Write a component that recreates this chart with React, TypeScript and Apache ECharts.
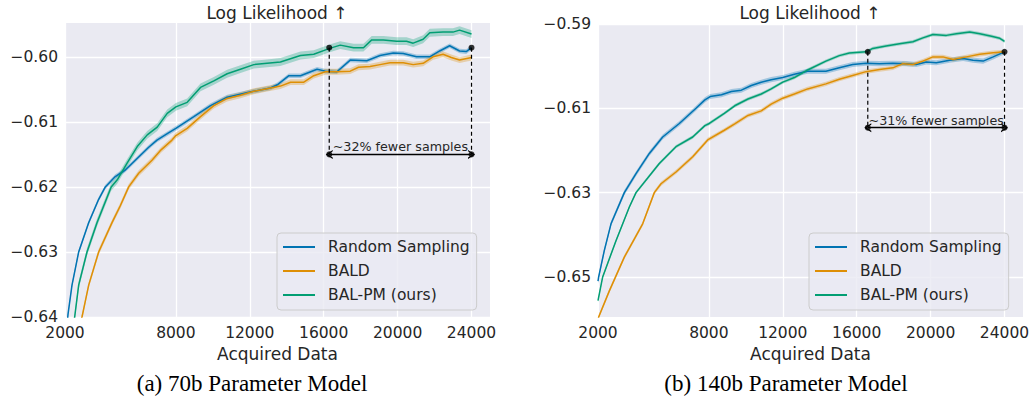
import React, { useEffect, useRef } from 'react';
import * as echarts from 'echarts';

const SERIES_NAMES = ['Random Sampling', 'BALD', 'BAL-PM (ours)'];
const COLORS = ['#0173b2', '#de8f05', '#029e73'];
const BAND_COLORS = ['rgba(1,115,178,0.3)', 'rgba(222,143,5,0.3)', 'rgba(2,158,115,0.3)'];

const X_TICKS = [2000, 8000, 12000, 16000, 20000, 24000];
const LEFT_Y_TICKS = [-0.64, -0.63, -0.62, -0.61, -0.6];
const RIGHT_Y_TICKS = [-0.65, -0.63, -0.61, -0.59];

// ---- (a) 70b ----
const L_RS_X = [2000, 2162, 2379, 2740, 3280, 3822, 4183, 4722, 5264, 5805, 6529, 6979, 7600, 8000, 8973, 9874, 10775, 12000, 13117, 13489, 14117, 14744, 15641, 16090, 16717, 17435, 18332, 19049, 19767, 20305, 21022, 21740, 22278, 22816, 23354, 23713, 24000];
const L_RS_Y = [-0.6452, -0.6396, -0.6351, -0.63, -0.6255, -0.6219, -0.62, -0.6184, -0.6174, -0.6159, -0.6139, -0.6128, -0.6117, -0.611, -0.6092, -0.6075, -0.6062, -0.6054, -0.6048, -0.6043, -0.6029, -0.6029, -0.6019, -0.6022, -0.6023, -0.6005, -0.6006, -0.5998, -0.5994, -0.5995, -0.6, -0.6, -0.5991, -0.5983, -0.5991, -0.5992, -0.5986];

const L_BALD_X = [2000, 2920, 3282, 3822, 4544, 4993, 5447, 5988, 6708, 7200, 7791, 8000, 8613, 9333, 10054, 10775, 11495, 12216, 12937, 13658, 14206, 14924, 15462, 16090, 16717, 17435, 17883, 18511, 19049, 19587, 20305, 20843, 21381, 21919, 22457, 22906, 23354, 24000];
const L_BALD_Y = [-0.6475, -0.64, -0.6351, -0.63, -0.6255, -0.6229, -0.62, -0.6179, -0.6159, -0.6143, -0.6128, -0.6121, -0.611, -0.6092, -0.6075, -0.6064, -0.6059, -0.6053, -0.6049, -0.6045, -0.6039, -0.6039, -0.6029, -0.6023, -0.6023, -0.6022, -0.6016, -0.6015, -0.6012, -0.6009, -0.6009, -0.6012, -0.601, -0.6, -0.5996, -0.6001, -0.6005, -0.6001];

const L_PM_X = [2000, 2524, 2740, 3191, 3732, 4500, 4829, 5369, 5910, 6450, 6991, 7532, 8000, 8613, 9333, 10054, 10775, 11495, 12216, 12937, 13658, 14744, 15462, 16323, 16897, 17614, 18152, 18600, 19228, 19946, 20484, 20843, 21381, 21740, 22457, 22995, 23354, 24000];
const L_PM_Y = [-0.648, -0.64, -0.6351, -0.63, -0.6255, -0.62, -0.6189, -0.6163, -0.6138, -0.612, -0.6108, -0.6087, -0.6077, -0.607, -0.6047, -0.6037, -0.6026, -0.6019, -0.6012, -0.601, -0.6008, -0.5998, -0.5996, -0.5987, -0.5982, -0.5986, -0.5986, -0.5974, -0.5974, -0.5976, -0.5976, -0.5979, -0.5973, -0.5963, -0.5962, -0.5962, -0.5959, -0.5965];

const L_BAND = [0.00035, 0.00045, 0.0006];

// ---- (b) 140b ----
const R_RS_X = [2000, 2036, 2343, 2704, 3425, 4057, 4778, 5501, 6401, 7304, 7785, 8072, 8682, 9220, 9758, 10296, 10834, 11372, 12000, 12628, 13345, 14335, 15059, 15783, 16507, 17231, 17955, 18679, 19222, 19765, 20308, 21032, 21756, 22299, 22842, 23385, 24000];
const R_RS_Y = [-0.651, -0.65, -0.6437, -0.6374, -0.63, -0.6255, -0.6207, -0.6168, -0.6136, -0.61, -0.608, -0.6072, -0.6068, -0.606, -0.6057, -0.6046, -0.6038, -0.6032, -0.6027, -0.6019, -0.6012, -0.6012, -0.6004, -0.5996, -0.5993, -0.5994, -0.5993, -0.5994, -0.5996, -0.599, -0.5992, -0.5986, -0.5982, -0.5986, -0.5988, -0.5978, -0.5966];

const R_BALD_X = [2000, 2036, 2614, 3425, 4418, 5047, 5410, 6221, 7125, 7937, 8836, 9399, 10117, 10834, 11372, 12000, 12628, 13345, 14335, 15059, 15783, 16507, 17231, 17955, 18498, 19041, 19584, 20127, 20670, 21213, 21937, 22661, 23385, 24000];
const R_BALD_Y = [-0.661, -0.6595, -0.6533, -0.6453, -0.6374, -0.63, -0.6279, -0.6251, -0.6215, -0.6175, -0.6152, -0.6137, -0.6117, -0.6106, -0.609, -0.6076, -0.6066, -0.6054, -0.6042, -0.6031, -0.6022, -0.6013, -0.6008, -0.6004, -0.5994, -0.5996, -0.5988, -0.5978, -0.5978, -0.5984, -0.5978, -0.5972, -0.5968, -0.5966];

const R_PM_X = [2000, 2253, 2974, 3696, 4057, 5318, 6221, 7125, 7785, 8024, 8836, 9399, 10117, 10834, 11372, 12000, 12628, 13345, 14335, 15059, 15602, 16507, 16869, 17593, 18317, 19041, 19584, 20127, 20851, 21394, 22118, 22661, 23294, 23746, 24000];
const R_PM_Y = [-0.6556, -0.65, -0.6414, -0.6334, -0.63, -0.6231, -0.6191, -0.6168, -0.6141, -0.6136, -0.6112, -0.6094, -0.6078, -0.6066, -0.6054, -0.6038, -0.6027, -0.6009, -0.5988, -0.5975, -0.5969, -0.5966, -0.5958, -0.5952, -0.5947, -0.5942, -0.5933, -0.5925, -0.5927, -0.5923, -0.5919, -0.5923, -0.5929, -0.5934, -0.5941];

const R_BAND = [0.0006, 0.0005, 0.0004];

// annotations: [x start, x end, y of dots, y of arrow]
const L_ANN = [16300, 24000, -0.5986, -0.615];
const R_ANN = [16600, 24000, -0.5966, -0.6146];
const L_ANN_TEXT = '~32% fewer samples';
const R_ANN_TEXT = '~31% fewer samples';

const TITLE_TEXT = 'Log Likelihood \u2191';
const X_NAME = 'Acquired Data';
const CAPTIONS = ['(a) 70b Parameter Model', '(b) 140b Parameter Model'];

const TEXT = '#262626';
const FONT = 'DejaVu Sans';

const zip = (xs: number[], ys: number[]) => xs.map((x, i) => [x, ys[i]]);

const fmtY = (v: number) => (v < 0 ? '\u2212' : '') + Math.abs(v).toFixed(2);

const CHEVRON = 'path://M5,0 L10,10 L8.4,10 L5,3.2 L1.6,10 L0,10 Z';

function panelSeries(idx: number, xsList: number[][], ysList: number[][], band: number[], ann: number[], annText: string) {
  const out: any[] = [];
  for (let k = 0; k < 3; k++) {
    const xs = xsList[k];
    const ys = ysList[k];
    const bandData = xs.map((x, i) => [x, ys[i] - band[k], ys[i] + band[k]]);
    out.push({
      type: 'custom', name: `${SERIES_NAMES[k]} band ${idx}`, xAxisIndex: idx, yAxisIndex: idx,
      data: bandData, encode: { x: 0, y: [1, 2] }, clip: true, silent: true, z: 1,
      renderItem: (params: any, api: any) => {
        if (params.dataIndex !== 0) return null;
        const upper = bandData.map((d) => api.coord([d[0], d[2]]));
        const lower = bandData.map((d) => api.coord([d[0], d[1]])).reverse();
        return {
          type: 'polygon',
          shape: { points: upper.concat(lower) },
          style: { fill: BAND_COLORS[k], stroke: 'none' },
        };
      },
    });
  }
  for (let k = 0; k < 3; k++) {
    out.push({
      type: 'line', name: SERIES_NAMES[k], xAxisIndex: idx, yAxisIndex: idx,
      data: zip(xsList[k], ysList[k]), symbol: 'none', showSymbol: false,
      lineStyle: { color: COLORS[k], width: 1.5 }, itemStyle: { color: COLORS[k] }, z: 2,
    });
  }
  const [x0, x1, yTop, yArr] = ann;
  [x0, x1].forEach((x, j) => {
    out.push({
      type: 'line', name: `vline ${idx} ${j}`, xAxisIndex: idx, yAxisIndex: idx,
      data: [[x, yTop], [x, yArr]], symbol: 'none', silent: true,
      lineStyle: { color: '#000', width: 1.2, type: [4, 3] }, z: 3,
    });
  });
  out.push({
    type: 'line', name: `arrow ${idx}`, xAxisIndex: idx, yAxisIndex: idx,
    data: [], symbol: 'none', silent: true,
    markLine: {
      silent: true, animation: false,
      symbol: [CHEVRON, CHEVRON], symbolSize: [9, 7],
      lineStyle: { color: '#000', width: 1.3, type: 'solid' },
      label: { show: true, position: 'insideMiddleTop', formatter: annText, fontSize: 12.7, color: TEXT, fontFamily: FONT, distance: 1 },
      data: [[{ coord: [x0, yArr] }, { coord: [x1, yArr] }]],
    },
    z: 3,
  });
  out.push({
    type: 'scatter', name: `dots ${idx}`, xAxisIndex: idx, yAxisIndex: idx,
    data: [[x0, yTop], [x1, yTop], [x0, yArr], [x1, yArr]],
    symbolSize: 6, itemStyle: { color: '#000' }, silent: true, z: 4,
  });
  return out;
}

function xAxis(gridIndex: number) {
  return {
    type: 'value', gridIndex, min: 2000, max: 25000,
    name: X_NAME, nameLocation: 'middle', nameGap: 27,
    nameTextStyle: { fontSize: 17, color: TEXT, fontFamily: FONT },
    axisLine: { show: false },
    axisTick: { show: false, customValues: X_TICKS },
    axisLabel: { customValues: X_TICKS, fontSize: 15.5, color: TEXT, fontFamily: FONT, margin: 8, formatter: (v: number) => String(v) },
    splitLine: { show: true, lineStyle: { color: '#ffffff', width: 1.3 } },
  };
}

function yAxis(gridIndex: number, min: number, max: number, ticks: number[]) {
  return {
    type: 'value', gridIndex, min, max,
    axisLine: { show: false },
    axisTick: { show: false, customValues: ticks },
    axisLabel: { customValues: ticks, fontSize: 15.5, color: TEXT, fontFamily: FONT, margin: 7, formatter: fmtY },
    splitLine: { show: true, lineStyle: { color: '#ffffff', width: 1.3 } },
  };
}

function legend(left: number) {
  return {
    data: SERIES_NAMES, orient: 'vertical', left, top: 233,
    icon: 'rect', itemWidth: 32, itemHeight: 2, itemGap: 8,
    padding: [6, 7, 7, 6],
    backgroundColor: 'rgba(234,234,242,0.8)', borderColor: '#cccccc', borderWidth: 1, borderRadius: 4,
    textStyle: { fontSize: 15.5, color: TEXT, fontFamily: FONT, lineHeight: 16, padding: [0, 0, 0, 8] },
    selectedMode: false,
  };
}

export default function App() {
  const ref = useRef<HTMLDivElement>(null);
  useEffect(() => {
    if (!ref.current) return;
    const chart = echarts.init(ref.current, undefined, { renderer: 'svg' });
    const option: any = {
      animation: false,
      backgroundColor: '#ffffff',
      textStyle: { fontFamily: FONT },
      title: [
        { text: TITLE_TEXT, left: 277, top: 4, textAlign: 'center', padding: 0, textStyle: { fontSize: 17, fontWeight: 'normal', color: TEXT, fontFamily: FONT } },
        { text: TITLE_TEXT, left: 810, top: 4, textAlign: 'center', padding: 0, textStyle: { fontSize: 17, fontWeight: 'normal', color: TEXT, fontFamily: FONT } },
        { text: CAPTIONS[0], left: 252, top: 372, textAlign: 'center', padding: 0, textStyle: { fontSize: 23, fontWeight: 'normal', color: '#000', fontFamily: 'Liberation Serif' } },
        { text: CAPTIONS[1], left: 786, top: 372, textAlign: 'center', padding: 0, textStyle: { fontSize: 23, fontWeight: 'normal', color: '#000', fontFamily: 'Liberation Serif' } },
      ],
      legend: [legend(277), legend(809)],
      grid: [
        { left: 65, top: 23, width: 425, height: 294, show: true, backgroundColor: '#eaeaf2', borderWidth: 0, containLabel: false },
        { left: 598, top: 24, width: 425, height: 293, show: true, backgroundColor: '#eaeaf2', borderWidth: 0, containLabel: false },
      ],
      xAxis: [xAxis(0), xAxis(1)],
      yAxis: [yAxis(0, -0.64, -0.5948, LEFT_Y_TICKS), yAxis(1, -0.6595, -0.59, RIGHT_Y_TICKS)],
      series: [
        ...panelSeries(0, [L_RS_X, L_BALD_X, L_PM_X], [L_RS_Y, L_BALD_Y, L_PM_Y], L_BAND, L_ANN, L_ANN_TEXT),
        ...panelSeries(1, [R_RS_X, R_BALD_X, R_PM_X], [R_RS_Y, R_BALD_Y, R_PM_Y], R_BAND, R_ANN, R_ANN_TEXT),
      ],
    };
    chart.setOption(option);
    return () => chart.dispose();
  }, []);
  return <div ref={ref} style={{ position: 'fixed', left: 0, top: 0, width: 1033, height: 400 }} />;
}
